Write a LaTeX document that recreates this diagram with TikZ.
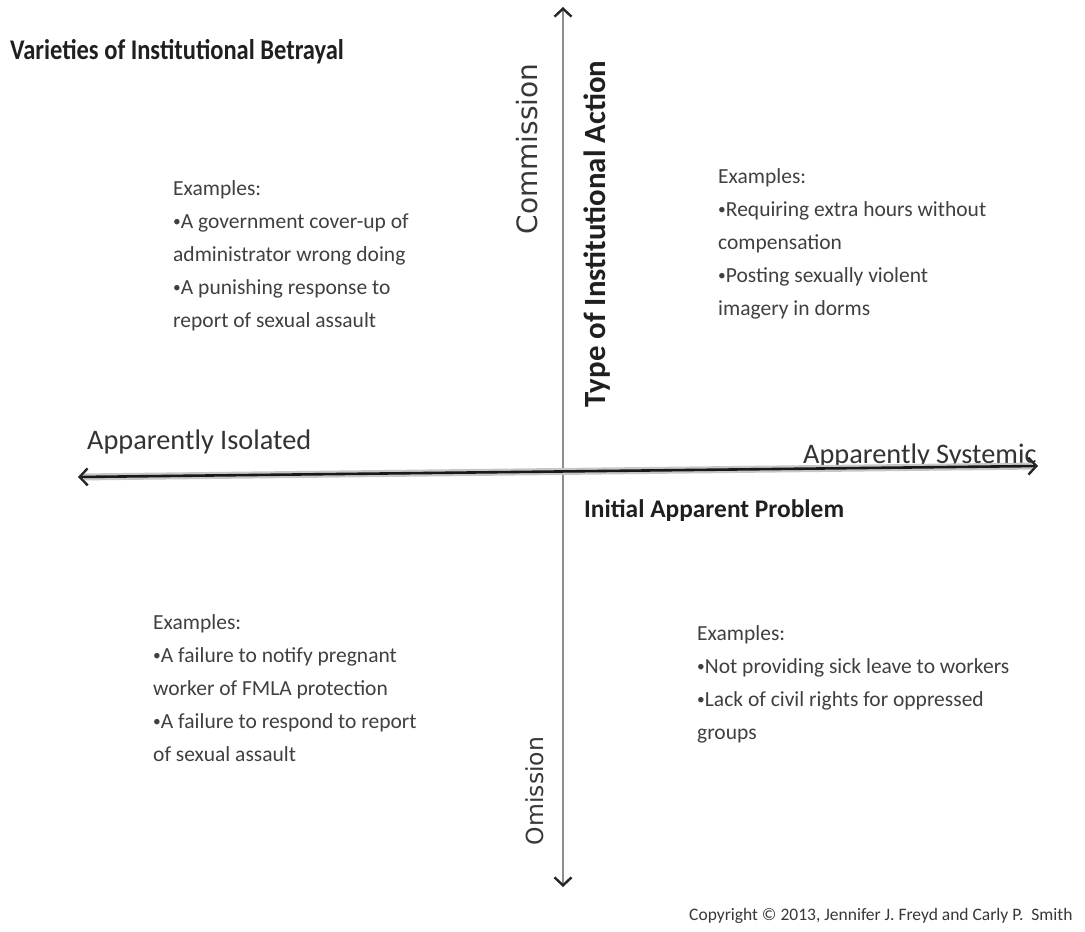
\documentclass[tikz,border=0pt]{standalone}
\usepackage{fontspec}
\setmainfont{Carlito}
\newfontfamily\titlefont{Carlito}[FakeStretch=0.86]
\newfontfamily\polefont{DejaVu Sans}
\usetikzlibrary{arrows.meta}
% small list bullet set tight against the item text
\newcommand\exbullet{\makebox[0.36em][l]{\raisebox{0.12ex}{\scalebox{0.72}{•}}}}
\begin{document}
\begin{tikzpicture}[x=1pt,y=-1pt,
  titletext/.style={anchor=base west, inner sep=0pt, text=black!88,
    font={\titlefont\bfseries\fontsize{28.5}{33}\selectfont}},
  example/.style={anchor=north west, inner sep=0pt, align=left, text=black!75,
    font={\fontsize{21.5}{33}\selectfont}},
  endlabel/.style={anchor=base west, inner sep=0pt, text=black!80,
    font={\fontsize{28.3}{34}\selectfont}},
  boldlabel/.style={anchor=base west, inner sep=0pt, text=black!88,
    font={\bfseries\fontsize{25.4}{30}\selectfont}},
  actionlabel/.style={inner sep=0pt, rotate=90, text=black!88,
    font={\bfseries\fontsize{30.8}{36}\selectfont}},
  pole/.style={inner sep=0pt, rotate=90, text=black!78},
  copyline/.style={anchor=base west, inner sep=0pt, text=black!78,
    font={\fontsize{17.5}{21}\selectfont}},
  barb/.tip={Straight Barb[length=8pt, width=17pt, line width=2.4pt, color=black!85]},
  vaxis/.style={line width=2.8pt, draw=black!45, barb-barb},
  haxis/.style={line width=2.6pt, draw=black!90, barb-barb},
  halo/.style={line width=7pt, draw=black!22, shorten <=6pt, shorten >=6pt},
]
\useasboundingbox[fill=white] (0,0) rectangle (1085,932);

% title
\node[titletext] (title) at (10,59) {Varieties of Institutional Betrayal};

% axis end points
\coordinate (ytop) at (563,7);
\coordinate (ybot) at (563,887);
\coordinate (xleft) at (78,477);
\coordinate (xright) at (1038,466);

% labels along the horizontal axis
\node[endlabel] (isolated) at (87,449) {Apparently Isolated};
\node[endlabel] (systemic) at (803,463) {Apparently Systemic};
\node[boldlabel] (problem) at (584,517) {Initial Apparent Problem};

% labels along the vertical axis
\node[pole, font={\polefont\fontsize{28}{32}\selectfont}] (commission) at (527,149) {Commission};
\node[pole, font={\polefont\fontsize{23.5}{28}\selectfont}] (omission) at (535,791) {Omission};
\node[actionlabel] (action) at (597,234) {Type of Institutional Action};

% axes
\draw[vaxis] (ybot) -- (ytop);
\draw[halo] (xleft) -- (xright);
\draw[haxis] (xleft) -- (xright);

% quadrant examples
\node[example] (tl) at (173,180) {Examples:\\\exbullet A government cover-up of\\administrator wrong doing\\\exbullet A punishing response to\\report of sexual assault};
\node[example] (tr) at (718,168) {Examples:\\\exbullet Requiring extra hours without\\compensation\\\exbullet Posting sexually violent\\imagery in dorms};
\node[example] (bl) at (153,614) {Examples:\\\exbullet A failure to notify pregnant\\worker of FMLA protection\\\exbullet A failure to respond to report\\of sexual assault};
\node[example] (br) at (697,625) {Examples:\\\exbullet Not providing sick leave to workers\\\exbullet Lack of civil rights for oppressed\\groups};

% credit line
\node[copyline] (copyright) at (689,920) {Copyright © 2013, Jennifer J. Freyd and Carly P.\ \ Smith};
\end{tikzpicture}
\end{document}
